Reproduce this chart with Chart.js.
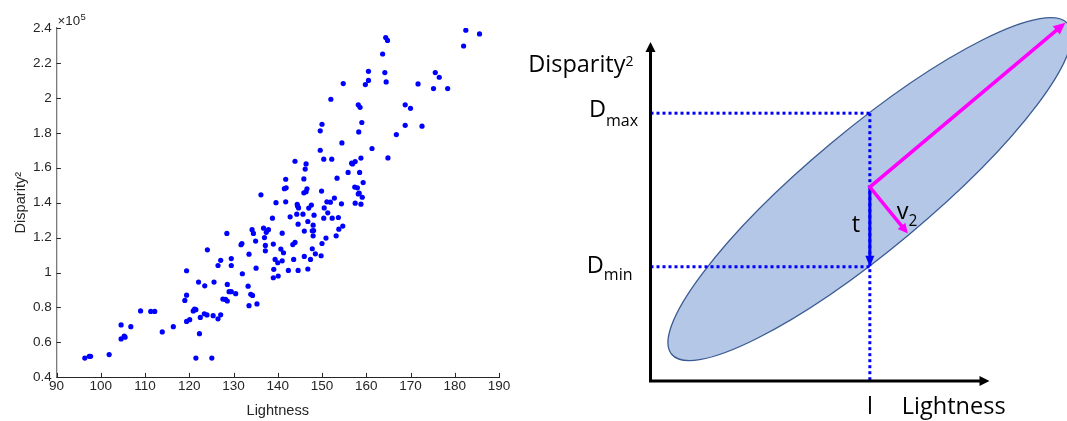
<!DOCTYPE html>
<html><head><meta charset="utf-8">
<script src="https://cdn.jsdelivr.net/npm/chart.js@4.4.1/dist/chart.umd.min.js"></script>
<style>
html,body{margin:0;padding:0;background:#fff;}
#wrap{position:relative;width:1067px;height:421px;overflow:hidden;background:#fff;}
#c1{position:absolute;left:0;top:0;}
#c2{position:absolute;left:510px;top:0;}
</style></head><body>
<div id="wrap">
<canvas id="c1" width="520" height="421"></canvas>
<canvas id="c2" width="557" height="421"></canvas>
</div>
<script>
// ---------- Left panel: scatter data ----------
const lightness = [96.4,97.4,97.7,101.9,104.6,104.6,105.3,105.5,106.8,109.0,111.3,112.2,113.9,116.4,119.0,119.4,119.4,119.4,120.1,120.9,121.2,121.5,121.5,122.1,122.3,122.5,123.4,123.5,124.0,124.1,125.1,125.4,125.6,126.5,126.5,127.1,127.1,127.6,128.2,128.5,128.6,128.6,129.0,129.5,129.5,129.5,130.5,131.7,131.9,132.0,133.3,133.5,133.5,133.9,134.2,134.3,134.5,135.0,135.1,135.3,136.2,136.8,137.0,137.2,137.2,137.4,137.9,138.8,139.0,139.0,139.1,139.4,139.6,140.0,140.1,140.7,141.0,141.0,141.3,141.5,141.9,141.8,141.8,142.4,142.8,143.4,143.6,143.9,143.9,144.3,144.4,144.5,144.7,144.6,144.6,145.7,145.9,145.9,146.0,146.0,146.2,146.4,146.4,146.6,146.8,146.8,147.0,147.4,147.6,147.8,147.8,148.0,148.0,148.1,148.2,148.5,149.6,149.6,149.8,149.9,150.0,150.0,150.4,150.4,150.5,150.9,151.1,151.3,151.9,152.0,152.2,152.3,152.8,153.2,153.4,153.7,153.8,154.4,154.5,154.7,154.8,155.9,156.7,156.9,157.5,157.4,157.5,158.0,158.2,158.3,158.2,158.4,158.6,158.5,158.8,158.8,159.0,159.1,159.3,159.8,160.5,160.5,161.3,163.7,164.2,164.4,164.5,164.8,164.9,166.8,168.8,168.8,170.0,171.7,172.6,175.2,175.6,176.5,178.4,182.0,182.5,185.6];
// Disparity^2 in units of 10^5
const disparity2 = [0.51,0.52,0.52,0.53,0.70,0.62,0.636,0.63,0.69,0.78,0.777,0.777,0.66,0.69,0.84,0.87,1.01,0.72,0.73,0.78,0.79,0.787,0.51,0.945,0.65,0.743,0.764,0.924,0.757,1.13,0.51,0.753,0.945,1.04,0.735,0.758,1.07,0.848,0.846,1.224,0.932,0.837,0.89,0.89,1.08,1.04,0.879,1.159,1.166,0.993,0.922,1.105,0.81,0.875,1.245,0.869,1.224,1.18,1.025,0.82,1.445,1.254,1.20,1.155,1.124,1.23,1.245,1.311,1.163,0.97,1.018,1.075,1.40,1.056,0.98,1.134,1.225,1.067,1.113,1.48,1.485,1.534,1.405,1.012,1.319,1.16,1.075,1.172,1.637,1.334,1.39,1.38,1.37,1.277,1.012,1.334,1.536,1.456,1.092,1.237,1.592,1.622,1.463,1.479,1.292,1.02,1.369,1.075,1.386,1.239,1.136,1.21,1.271,1.24,1.328,1.107,1.811,1.70,1.096,1.466,1.849,1.166,1.649,1.311,1.37,1.197,1.405,1.342,1.403,1.992,1.649,1.311,1.426,1.21,1.54,1.315,1.248,1.393,1.742,1.266,2.082,1.573,1.626,1.622,1.635,1.489,1.397,1.485,1.96,1.805,1.45,1.454,1.946,1.573,1.391,1.655,1.859,1.431,1.515,2.076,2.152,2.10,1.71,2.251,2.145,2.345,2.091,2.329,1.656,1.79,1.96,1.843,1.94,2.08,1.838,2.053,2.145,2.118,2.053,2.297,2.387,2.366];
const xTicks = [90,100,110,120,130,140,150,160,170,180,190];
const yTicks = [0.4,0.6,0.8,1,1.2,1.4,1.6,1.8,2,2.2,2.4];
const yExponent = '5';
const xTitle = 'Lightness';
const yTitle = 'Disparity\u00B2';

// ---------- Right panel: schematic values (diagram units) ----------
const diagramAxisMax = [100, 100];      // x (Lightness), y (Disparity^2)
const lValue = 64.7;                    // chosen lightness l
const dMax = 79.0;                      // D_max
const dMin = 33.7;                      // D_min
const ellipseCenter = [64.7, 56.6];
const ellipseSemiAxes = [76.1, 17.7];
const ellipseAngleDeg = 39.8;
const vectorOrigin = [64.7, 57.2];
const v1Tip = [122.4, 105.7];
const v2Tip = [75.9, 43.5];
const tTip = [64.7, dMin];

const LFONT = '"Liberation Sans", Arial, Helvetica, sans-serif';
const RFONT = '"Open Sans", "Noto Sans", sans-serif';
const AX = '#262626';
const MAIN = 23.5;

function buildCharts(){
  // ---------- left chart ----------
  const leftDecor = {
    id:'leftDecor',
    afterDraw(chart){
      const {ctx, chartArea:a, scales:{x,y}} = chart;
      ctx.save();
      ctx.strokeStyle = AX; ctx.lineWidth = 1;
      ctx.beginPath();
      x.ticks.forEach(t=>{ const px = Math.round(x.getPixelForValue(t.value))+0.5; ctx.moveTo(px, a.bottom); ctx.lineTo(px, a.bottom-4.4); });
      y.ticks.forEach(t=>{ const py = Math.round(y.getPixelForValue(t.value))+0.5; ctx.moveTo(a.left, py); ctx.lineTo(a.left+4.4, py); });
      ctx.stroke();
      ctx.fillStyle = AX; ctx.textAlign='left'; ctx.textBaseline='alphabetic';
      ctx.font = '13.3px ' + LFONT;
      const s = '\u00D710';
      ctx.fillText(s, a.left+1, a.top-3);
      const w = ctx.measureText(s).width;
      ctx.font = '9.5px ' + LFONT;
      ctx.fillText(yExponent, a.left+1+w+0.5, a.top-8.5);
      ctx.restore();
    }
  };
  new Chart(document.getElementById('c1'), {
    type:'scatter',
    data:{datasets:[{
      data: lightness.map((v,i)=>({x:v, y:disparity2[i]})),
      backgroundColor:'#0000ff', borderWidth:0, pointRadius:2.6, pointHoverRadius:2.6
    }]},
    options:{
      responsive:false, animation:false, events:[],
      layout:{padding:{left:0, top:28, right:21, bottom:0}},
      plugins:{legend:{display:false}, tooltip:{enabled:false}},
      scales:{
        x:{type:'linear', min:90, max:190,
          afterBuildTicks:s=>{ s.ticks = xTicks.map(v=>({value:v})); },
          afterFit:s=>{ s.height = 43.7; },
          grid:{display:false, drawTicks:false},
          border:{display:true, color:AX, width:1},
          ticks:{padding:1, color:AX, font:{family:LFONT, size:13.5}, maxRotation:0, autoSkip:false,
                 callback:v=>String(parseFloat(Number(v).toFixed(2)))},
          title:{display:true, text:xTitle, color:AX, font:{family:LFONT, size:14.6}, padding:{top:0,bottom:1.5}}
        },
        y:{type:'linear', min:0.4, max:2.4,
          afterBuildTicks:s=>{ s.ticks = yTicks.map(v=>({value:v})); },
          afterFit:s=>{ s.width = 56.5; },
          grid:{display:false, drawTicks:false},
          border:{display:true, color:'#7a7a7a', width:1.3},
          ticks:{padding:4.8, color:AX, font:{family:LFONT, size:13.5}, autoSkip:false,
                 callback:v=>String(parseFloat(Number(v).toFixed(2)))},
          title:{display:true, text:yTitle, color:AX, font:{family:LFONT, size:14.6}, padding:{top:12.3,bottom:0}}
        }
      }
    },
    plugins:[leftDecor]
  });

  // ---------- right chart ----------
  function arrowHead(ctx, tx, ty, ux, uy, hl, hw){
    const bx = tx-ux*hl, by = ty-uy*hl;
    ctx.beginPath();
    ctx.moveTo(tx,ty);
    ctx.lineTo(bx-uy*hw/2, by+ux*hw/2);
    ctx.lineTo(bx+uy*hw/2, by-ux*hw/2);
    ctx.closePath(); ctx.fill();
  }
  function unit(x0,y0,x1,y1){ const L=Math.hypot(x1-x0,y1-y0); return [(x1-x0)/L,(y1-y0)/L]; }

  function drawSubText(ctx, parts, xRef, align){
    let total = 0;
    parts.forEach(p=>{ ctx.font = p.size+'px '+RFONT; p.w = ctx.measureText(p.t).width; total += p.w; });
    let xx = align==='right' ? xRef-total : xRef;
    ctx.textAlign='left';
    parts.forEach(p=>{ ctx.font = p.size+'px '+RFONT; ctx.fillText(p.t, xx, p.y); xx += p.w; });
  }

  const diagram = {
    id:'diagram',
    beforeDatasetsDraw(chart){
      const {ctx, scales:{x,y}} = chart;
      const sx = x.getPixelForValue(1)-x.getPixelForValue(0);
      const cx = x.getPixelForValue(ellipseCenter[0]), cy = y.getPixelForValue(ellipseCenter[1]);
      ctx.save();
      ctx.beginPath();
      ctx.ellipse(cx, cy, ellipseSemiAxes[0]*sx, ellipseSemiAxes[1]*sx, -ellipseAngleDeg*Math.PI/180, 0, Math.PI*2);
      ctx.fillStyle = '#b4c7e7'; ctx.fill();
      ctx.strokeStyle = '#3a5a92'; ctx.lineWidth = 1.3; ctx.stroke();
      ctx.restore();
    },
    afterDatasetsDraw(chart){
      const {ctx, scales:{x,y}} = chart;
      const P = (a,b)=>[x.getPixelForValue(a), y.getPixelForValue(b)];
      ctx.save();
      // axes with arrowheads
      const o = P(0,0), xe = P(diagramAxisMax[0],0), ye = P(0,diagramAxisMax[1]);
      const ah = 10, aw = 10;
      ctx.strokeStyle='#000'; ctx.fillStyle='#000'; ctx.lineWidth=3; ctx.lineJoin='miter'; ctx.lineCap='butt';
      ctx.beginPath(); ctx.moveTo(ye[0], ye[1]+ah-1); ctx.lineTo(o[0],o[1]); ctx.lineTo(xe[0]-ah+1, xe[1]); ctx.stroke();
      arrowHead(ctx, xe[0], xe[1], 1, 0, ah, aw);
      arrowHead(ctx, ye[0], ye[1], 0, -1, ah, aw);

      // t vector (blue)
      const vo = P(vectorOrigin[0], vectorOrigin[1]);
      const tt = P(tTip[0], tTip[1]);
      let u = unit(vo[0],vo[1],tt[0],tt[1]);
      ctx.strokeStyle='#0000ff'; ctx.fillStyle='#0000ff'; ctx.lineWidth=3;
      ctx.beginPath(); ctx.moveTo(vo[0],vo[1]); ctx.lineTo(tt[0]-u[0]*8, tt[1]-u[1]*8); ctx.stroke();
      arrowHead(ctx, tt[0], tt[1], u[0], u[1], 11, 9);

      // principal vectors (magenta)
      const p1 = P(v1Tip[0], v1Tip[1]), p2 = P(v2Tip[0], v2Tip[1]);
      const u1 = unit(vo[0],vo[1],p1[0],p1[1]), u2 = unit(vo[0],vo[1],p2[0],p2[1]);
      ctx.strokeStyle='#ff00ff'; ctx.fillStyle='#ff00ff'; ctx.lineWidth=3.5; ctx.lineJoin='miter';
      ctx.beginPath();
      ctx.moveTo(p1[0]-u1[0]*8, p1[1]-u1[1]*8);
      ctx.lineTo(vo[0], vo[1]);
      ctx.lineTo(p2[0]-u2[0]*7, p2[1]-u2[1]*7);
      ctx.stroke();
      arrowHead(ctx, p1[0], p1[1], u1[0], u1[1], 12, 11);
      arrowHead(ctx, p2[0], p2[1], u2[0], u2[1], 10, 10);

      // labels
      ctx.fillStyle='#000'; ctx.textBaseline='alphabetic';
      const ax = o[0];
      drawSubText(ctx, [{t:'Disparity', size:MAIN, y:ye[1]+30}, {t:'2', size:14, y:ye[1]+23.5}], ax-17, 'right');
      const yMax = y.getPixelForValue(dMax), yMin = y.getPixelForValue(dMin);
      drawSubText(ctx, [{t:'D', size:MAIN, y:yMax+4}, {t:'max', size:16, y:yMax+13}], ax-12.5, 'right');
      drawSubText(ctx, [{t:'D', size:MAIN, y:yMin+6}, {t:'min', size:16, y:yMin+13.5}], ax-18, 'right');
      // t label
      ctx.font = MAIN+'px '+RFONT; ctx.textAlign='center';
      ctx.fillText('t', vo[0]-14, vo[1]+44.5);
      // v2 label
      drawSubText(ctx, [{t:'v', size:MAIN, y:vo[1]+32}, {t:'2', size:15.5, y:vo[1]+39}], vo[0]+27, 'left');
      // l and Lightness
      const lx = x.getPixelForValue(lValue);
      ctx.font = MAIN+'px '+RFONT; ctx.textAlign='center';
      ctx.fillText('l', lx, o[1]+33);
      ctx.textAlign='left';
      ctx.fillText('Lightness', lx+32, o[1]+33);
      ctx.restore();
    }
  };

  const dotted = {type:'line', borderColor:'#0000ff', borderWidth:3, borderDash:[3,3], borderCapStyle:'butt',
                  pointRadius:0, fill:false, tension:0};
  new Chart(document.getElementById('c2'), {
    type:'scatter',
    data:{datasets:[
      Object.assign({data:[{x:0,y:dMax},{x:lValue,y:dMax}]}, dotted),
      Object.assign({data:[{x:0,y:dMin},{x:lValue,y:dMin}]}, dotted),
      Object.assign({data:[{x:lValue,y:dMax},{x:lValue,y:0}]}, dotted)
    ]},
    options:{
      responsive:false, animation:false, events:[],
      layout:{padding:0},
      plugins:{legend:{display:false}, tooltip:{enabled:false}},
      scales:{
        x:{type:'linear', display:false, bounds:'data', min:-41.45, max:122.86},
        y:{type:'linear', display:false, bounds:'data', min:-11.80, max:112.39}
      }
    },
    plugins:[diagram]
  });
}

const fontLoads = [
  document.fonts.load('13px "Liberation Sans"'),
  document.fonts.load('23px "Open Sans"')
];
Promise.race([Promise.all(fontLoads), new Promise(r=>setTimeout(r,800))]).then(buildCharts, buildCharts);
</script>
</body></html>
